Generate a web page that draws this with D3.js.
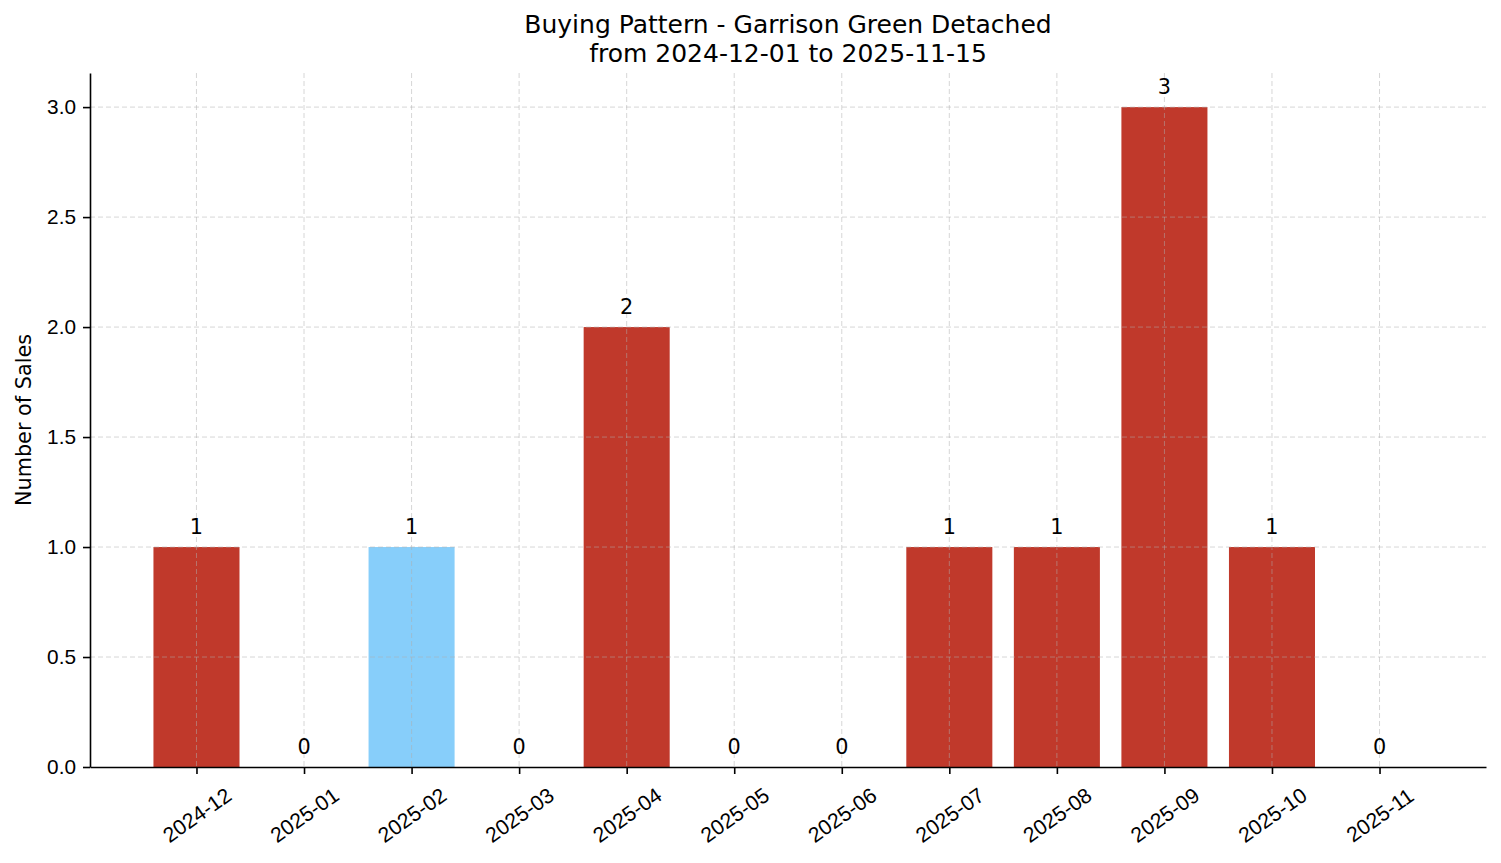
<!DOCTYPE html>
<html>
<head>
<meta charset="utf-8">
<script src="https://cdn.jsdelivr.net/npm/d3@7"></script>
<style>
  body { margin: 0; background: #fff; }
  svg { font-family: "DejaVu Sans", sans-serif; }
</style>
</head>
<body>
<svg id="chart" width="1501" height="863"></svg>
<script>
// data
const months = ['2024-12', '2025-01', '2025-02', '2025-03', '2025-04', '2025-05',
  '2025-06', '2025-07', '2025-08', '2025-09', '2025-10', '2025-11'];
const sales = [1, 0, 1, 0, 2, 0, 0, 1, 1, 3, 1, 0];
const highlighted = ['2025-02'];
const yTicks = [0, 0.5, 1.0, 1.5, 2.0, 2.5, 3.0];

const svg = d3.select('#chart');
const plotLeft = 90, plotRight = 1486, plotTop = 73, plotBottom = 767;

let xScale = d3.scaleLinear()
  .domain([-0.99, months.length - 1 + 0.99])
  .range([plotLeft, plotRight]);

let yScale = d3.scaleLinear()
  .domain([0, 3.155])
  .range([plotBottom, plotTop]);

const barW = xScale(0.4) - xScale(-0.4);

// bars
svg.append('g').selectAll('rect')
  .data(sales)
  .join('rect')
  .attr('x', (d, i) => xScale(i) - barW / 2)
  .attr('y', d => yScale(d))
  .attr('width', barW)
  .attr('height', d => yScale(0) - yScale(d))
  .attr('fill', (d, i) => highlighted.includes(months[i]) ? '#87cefa' : '#c0392b');

// grid (drawn over the bars, like the reference)
let grid = svg.append('g')
  .attr('stroke', '#b0b0b0')
  .attr('stroke-opacity', 0.5)
  .attr('stroke-width', 1)
  .attr('stroke-dasharray', '5,3');
grid.selectAll('line.h')
  .data(yTicks.slice(1))
  .join('line')
  .attr('x1', plotLeft).attr('x2', plotRight)
  .attr('y1', d => yScale(d)).attr('y2', d => yScale(d));
grid.selectAll('line.v')
  .data(months)
  .join('line')
  .attr('x1', (d, i) => xScale(i)).attr('x2', (d, i) => xScale(i))
  .attr('y1', plotTop).attr('y2', plotBottom);

// axes
let xAxis = svg.append('g')
  .attr('transform', `translate(0, ${plotBottom})`)
  .call(d3.axisBottom(xScale)
    .tickValues(d3.range(months.length))
    .tickFormat(i => months[i])
    .tickSizeInner(7).tickSizeOuter(0).tickPadding(7));
xAxis.selectAll('.tick text')
  .attr('font-size', 21.2)
  .attr('fill', '#000')
  .attr('text-anchor', 'middle')
  .attr('y', 0)
  .attr('dy', '0.35em')
  .attr('transform', 'translate(0, 48) rotate(-35)');

let yAxis = svg.append('g')
  .attr('transform', `translate(${plotLeft}, 0)`)
  .call(d3.axisLeft(yScale)
    .tickValues(yTicks)
    .tickFormat(d3.format('.1f'))
    .tickSizeInner(7).tickSizeOuter(0).tickPadding(7));
yAxis.selectAll('.tick text').attr('font-size', 20.8).attr('fill', '#000');

[xAxis, yAxis].forEach(a => {
  a.select('.domain').attr('stroke', '#000').attr('stroke-width', 1.6);
  a.selectAll('.tick line').attr('stroke', '#000').attr('stroke-width', 1.6);
});

// value labels
svg.append('g').selectAll('text')
  .data(sales)
  .join('text')
  .attr('x', (d, i) => xScale(i))
  .attr('y', d => yScale(d) - 13)
  .attr('text-anchor', 'middle')
  .attr('font-size', 20.8)
  .text(d => d);

// titles
svg.append('text')
  .attr('x', (plotLeft + plotRight) / 2).attr('y', 33)
  .attr('text-anchor', 'middle').attr('font-size', 25)
  .text('Buying Pattern - Garrison Green Detached');
svg.append('text')
  .attr('x', (plotLeft + plotRight) / 2).attr('y', 62)
  .attr('text-anchor', 'middle').attr('font-size', 25)
  .text('from 2024-12-01 to 2025-11-15');

svg.append('text')
  .attr('transform', `translate(31, ${(plotTop + plotBottom) / 2}) rotate(-90)`)
  .attr('text-anchor', 'middle').attr('font-size', 20.8)
  .text('Number of Sales');
</script>
</body>
</html>
